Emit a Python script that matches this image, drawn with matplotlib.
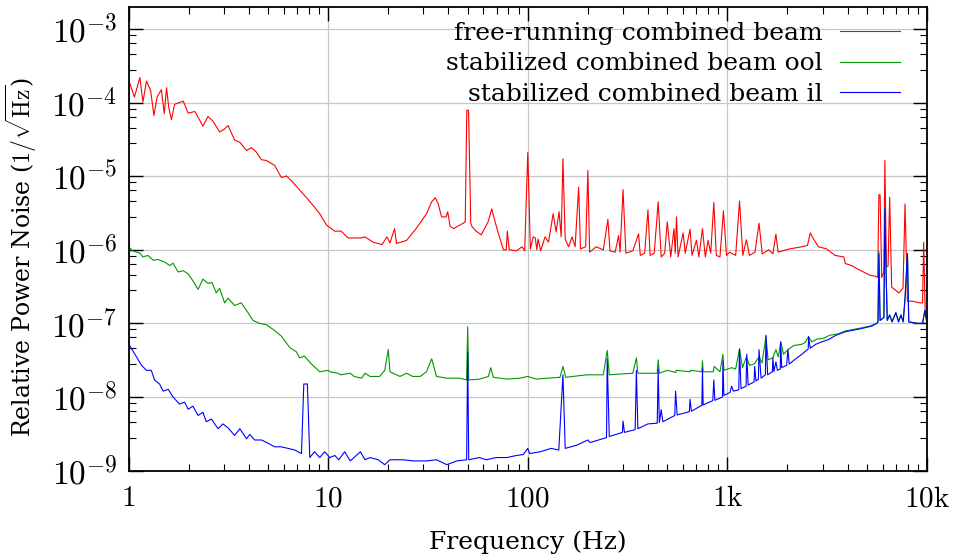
import numpy as np
import matplotlib
matplotlib.use("Agg")
import matplotlib.pyplot as plt
from matplotlib.ticker import FixedLocator, NullFormatter

# free-running combined beam (frequency in Hz, relative power noise in 1/sqrt(Hz))
red_f = [1.00, 1.07, 1.14, 1.18, 1.23, 1.29, 1.34, 1.39, 1.46, 1.51, 1.55, 1.59, 1.64, 1.70,
         1.88, 1.99, 2.15, 2.36, 2.50, 2.65, 2.86, 3.03, 3.15, 3.40, 3.61, 3.90, 4.12, 4.37,
         4.63, 4.90, 5.39, 5.83, 6.18, 6.54, 7.07, 7.95, 8.41, 9.07, 9.8, 10.8, 11.6, 12.6,
         14.5, 15.3, 16.8, 18.6, 19.7, 20.4, 21.5, 22.0, 24.7, 27.8, 31.1, 33.0, 34.4, 35.6,
         37.0, 39.0, 39.7, 40.8, 42.4, 47.5, 48.6, 49.5, 50.5, 51.8, 52.4, 55, 58.5, 63.3,
         66, 68.6, 71.3, 75.5, 78.0, 79, 80.7, 87.8, 93.5, 96.5, 100, 103, 106.5, 109, 111,
         112.6, 116, 122, 127, 134, 138.6, 143.5, 147, 150, 154, 160, 166.6, 172.6, 179.8,
         183.7, 195, 200, 204, 220, 239, 252, 258, 274, 285, 290, 300, 310, 336, 359, 366,
         385, 400, 410, 430, 450, 466, 485, 500, 520, 540, 548, 556, 566, 600, 615, 650, 665,
         700, 720, 750, 775, 800, 825, 855, 880, 918, 955, 990, 1025, 1100, 1150, 1195, 1245,
         1290, 1375, 1440, 1495, 1610, 1690, 1750, 1795, 2050, 2360, 2520, 2600, 2700, 2860,
         3140, 3460, 3830, 3900, 4200, 4480, 4800, 5190, 5500, 5660, 5740, 5820, 5930, 6080,
         6150, 6260, 6380, 6500, 6650, 6980, 7240, 7580, 7760, 7980, 8500, 9170, 9500, 9620,
         9800, 10000]
red_v = [2.07e-4, 1.19e-4, 2.2e-4, 1.02e-4, 1.97e-4, 1.47e-4, 6.7e-5, 1.19e-4, 1.5e-4, 7.1e-5,
         1.6e-4, 8.6e-5, 5.9e-5, 9.5e-5, 1.05e-4, 7.2e-5, 7.6e-5, 4.8e-5, 6.5e-5, 5.6e-5,
         4.0e-5, 4.4e-5, 4.9e-5, 3.1e-5, 2.9e-5, 2.24e-5, 2.45e-5, 2.13e-5, 1.68e-5, 1.64e-5,
         1.41e-5, 9.6e-6, 1.01e-5, 8.7e-6, 6.9e-6, 4.8e-6, 4.0e-6, 3.1e-6, 2.18e-6, 1.79e-6,
         1.8e-6, 1.45e-6, 1.45e-6, 1.5e-6, 1.27e-6, 1.18e-6, 1.5e-6, 1.24e-6, 1.94e-6, 1.22e-6,
         1.34e-6, 2.0e-6, 3.1e-6, 4.5e-6, 5.1e-6, 4.2e-6, 2.8e-6, 2.8e-6, 3.3e-6, 2.1e-6,
         1.94e-6, 2.3e-6, 2.4e-6, 7.9e-5, 7.9e-5, 2.3e-6, 2.1e-6, 1.8e-6, 1.6e-6, 2.4e-6,
         3.6e-6, 2.4e-6, 1.65e-6, 1.0e-6, 1.0e-6, 1.8e-6, 1.0e-6, 9.7e-7, 1.1e-6, 9.7e-7,
         2.1e-5, 1.03e-6, 1.5e-6, 1.45e-6, 1.0e-6, 1.4e-6, 9.7e-7, 1.5e-6, 1.27e-6, 3.1e-6,
         1.75e-6, 3.3e-6, 1.5e-6, 1.73e-5, 1.4e-6, 1.1e-6, 1.5e-6, 1.1e-6, 7.1e-6, 1.03e-6,
         1.1e-6, 1.2e-5, 9.3e-7, 1.1e-6, 1.0e-6, 2.6e-6, 9.7e-7, 9.3e-7, 1.56e-6, 9.3e-7,
         6.6e-6, 9.0e-7, 9.7e-7, 1.65e-6, 8.4e-7, 9.0e-7, 3.5e-6, 8.4e-7, 9.0e-7, 4.5e-6,
         8.0e-7, 9.0e-7, 2.4e-6, 8.0e-7, 1.94e-6, 9.0e-7, 2.8e-6, 8.0e-7, 1.7e-6, 9.0e-7,
         1.9e-6, 8.4e-7, 1.35e-6, 8.0e-7, 1.94e-6, 8.0e-7, 1.35e-6, 9.0e-7, 4.4e-6, 8.4e-7,
         8.0e-7, 3.4e-6, 8.4e-7, 9.3e-7, 8.4e-7, 4.6e-6, 8.4e-7, 1.37e-6, 8.4e-7, 9.3e-7,
         2.3e-6, 8.8e-7, 1.0e-6, 8.8e-7, 1.64e-6, 9.3e-7, 1.03e-6, 1.1e-6, 1.15e-6, 1.7e-6,
         1.4e-6, 1.1e-6, 1.03e-6, 8.4e-7, 8.0e-7, 6.5e-7, 6.1e-7, 5.5e-7, 5.0e-7, 4.5e-7,
         4.4e-7, 4.2e-7, 5.6e-6, 5.6e-6, 4.2e-7, 5.0e-7, 1.64e-5, 5.9e-7, 6.0e-7, 5.2e-6,
         3.1e-7, 2.8e-7, 2.6e-7, 3.0e-7, 4.2e-6, 2.0e-7, 2.0e-7, 1.9e-7, 1.9e-7, 1.27e-6,
         1.3e-7, 1.3e-7]

# stabilized combined beam, out-of-loop
green_f = [1.00, 1.05, 1.14, 1.18, 1.25, 1.33, 1.40, 1.52, 1.61, 1.67, 1.77, 1.88, 1.99, 2.10,
           2.23, 2.36, 2.50, 2.62, 2.75, 2.86, 3.03, 3.15, 3.40, 3.67, 3.90, 4.2, 4.53, 4.9,
           5.39, 5.83, 6.42, 6.93, 7.2, 7.6, 8.25, 9.07, 10.0, 10.2, 11.2, 11.5, 12.9, 13.5,
           14.7, 15.3, 16.2, 18.1, 19.2, 20.0, 20.4, 22.9, 24.7, 26.5, 28.9, 31.1, 33.0, 34.9,
           39.3, 45.7, 49.4, 50.0, 50.6, 57.5, 63.5, 65.2, 67.2, 78.5, 91, 100, 110, 145, 150,
           155, 197, 239, 250, 256, 290, 336, 350, 356, 417, 445, 450, 456, 500, 551, 553,
           650, 653, 745, 750, 756, 850, 858, 918, 950, 960, 1050, 1100, 1150, 1190, 1245,
           1290, 1360, 1440, 1490, 1560, 1600, 1690, 1750, 1800, 1850, 1910, 2010, 2150, 2360,
           2450, 2550, 2650, 2800, 3050, 3250, 3600, 3900, 4300, 4700, 5190, 5600, 5680, 5740,
           5820, 6080, 6150, 6220, 6320, 6500, 6680, 6980, 7200, 7400, 7600, 7760, 7980, 8100,
           8900, 9500, 9750, 10000]
green_v = [1.1e-6, 9.7e-7, 9.0e-7, 8.0e-7, 8.4e-7, 7.2e-7, 7.4e-7, 6.8e-7, 6.1e-7, 6.6e-7,
           5.0e-7, 5.2e-7, 4.7e-7, 3.8e-7, 2.9e-7, 4.0e-7, 3.5e-7, 3.6e-7, 2.6e-7, 3.0e-7,
           1.9e-7, 2.2e-7, 1.75e-7, 1.9e-7, 1.5e-7, 1.1e-7, 1.0e-7, 9.6e-8, 8.0e-8, 6.7e-8,
           4.7e-8, 4.1e-8, 3.4e-8, 3.6e-8, 2.8e-8, 2.2e-8, 2.3e-8, 2.2e-8, 2.1e-8, 2.0e-8,
           2.1e-8, 1.9e-8, 1.8e-8, 2.1e-8, 1.9e-8, 1.9e-8, 2.3e-8, 4.4e-8, 2.2e-8, 1.9e-8,
           2.1e-8, 1.9e-8, 1.9e-8, 2.2e-8, 3.3e-8, 1.9e-8, 1.8e-8, 1.8e-8, 1.7e-8, 9.0e-8,
           1.7e-8, 1.75e-8, 1.9e-8, 2.5e-8, 1.85e-8, 1.75e-8, 1.8e-8, 1.9e-8, 1.75e-8, 1.85e-8,
           2.6e-8, 1.85e-8, 2.0e-8, 2.0e-8, 4.3e-8, 2.0e-8, 2.05e-8, 2.1e-8, 3.4e-8, 2.1e-8,
           2.1e-8, 2.1e-8, 3.2e-8, 2.1e-8, 2.3e-8, 2.15e-8, 2.3e-8, 2.2e-8, 2.3e-8, 2.2e-8,
           3.1e-8, 2.2e-8, 2.2e-8, 2.6e-8, 2.2e-8, 3.8e-8, 2.3e-8, 2.5e-8, 2.4e-8, 4.5e-8,
           2.5e-8, 3.5e-8, 2.7e-8, 2.8e-8, 3.5e-8, 2.9e-8, 6.6e-8, 3.2e-8, 3.4e-8, 4.4e-8,
           3.5e-8, 5.6e-8, 3.8e-8, 4.4e-8, 5.0e-8, 5.2e-8, 5.5e-8, 6.6e-8, 5.6e-8, 6.1e-8,
           6.3e-8, 6.9e-8, 7.2e-8, 7.9e-8, 8.3e-8, 8.7e-8, 9.2e-8, 1.0e-7, 1.05e-7, 9.5e-7,
           1.1e-7, 1.2e-7, 3.7e-6, 6.8e-7, 1.1e-7, 1.3e-7, 1.05e-7, 1.4e-7, 1.05e-7, 1.3e-7,
           1.05e-7, 2.2e-7, 9.0e-7, 1.05e-7, 1.0e-7, 1.0e-7, 1.5e-7, 1.0e-7]

# stabilized combined beam, in-loop
blue_f = [1.00, 1.07, 1.16, 1.23, 1.30, 1.35, 1.43, 1.49, 1.58, 1.67, 1.80, 1.91, 1.99, 2.10,
          2.23, 2.36, 2.45, 2.60, 2.81, 2.97, 3.15, 3.40, 3.61, 3.90, 4.05, 4.28, 4.63, 5.0,
          5.39, 5.83, 6.3, 6.8, 7.35, 7.55, 7.87, 8.09, 8.55, 9.07, 9.6, 10.2, 10.8, 11.3,
          12.1, 12.9, 14.5, 15.3, 16.2, 17.8, 19.2, 20.4, 23.7, 26.7, 31.1, 34.9, 39.3, 44.1,
          49.4, 50.0, 50.6, 57, 62, 69.5, 78.5, 87.8, 95, 100, 102, 115.7, 131, 143, 150, 154,
          175, 200, 205, 248, 250, 256, 298, 300, 305, 345, 350, 356, 400, 445, 450, 456, 466,
          475, 545, 550, 560, 645, 650, 660, 745, 750, 756, 845, 855, 865, 945, 950, 960,
          1030, 1050, 1070, 1140, 1150, 1170, 1240, 1250, 1270, 1360, 1370, 1390, 1430, 1440,
          1475, 1550, 1560, 1590, 1680, 1690, 1710, 1750, 1780, 1840, 1850, 1870, 1980, 2010,
          2040, 2200, 2360, 2540, 2550, 2600, 2770, 2960, 3200, 3500, 3900, 4300, 4700, 5300,
          5600, 5680, 5740, 5820, 6080, 6150, 6220, 6320, 6500, 6680, 6980, 7200, 7400, 7600,
          7760, 7980, 8100, 8900, 9500, 9750, 10000]
blue_v = [5.3e-8, 3.9e-8, 2.7e-8, 2.3e-8, 2.3e-8, 1.7e-8, 1.5e-8, 1.2e-8, 1.27e-8, 1.0e-8,
          8.0e-9, 8.5e-9, 6.8e-9, 7.5e-9, 5.6e-9, 6.2e-9, 4.6e-9, 5.0e-9, 3.7e-9, 4.3e-9,
          3.8e-9, 3.0e-9, 3.7e-9, 2.7e-9, 3.1e-9, 2.6e-9, 2.6e-9, 2.35e-9, 2.1e-9, 2.1e-9,
          2.0e-9, 1.9e-9, 1.7e-9, 1.5e-8, 1.5e-8, 1.5e-9, 1.8e-9, 1.5e-9, 1.8e-9, 1.5e-9,
          1.6e-9, 1.4e-9, 1.8e-9, 1.35e-9, 1.8e-9, 1.4e-9, 1.5e-9, 1.4e-9, 1.2e-9, 1.4e-9,
          1.4e-9, 1.35e-9, 1.35e-9, 1.4e-9, 1.2e-9, 1.35e-9, 1.4e-9, 4.1e-8, 1.4e-9, 1.5e-9,
          1.4e-9, 1.5e-9, 1.5e-9, 1.6e-9, 1.65e-9, 2.0e-9, 1.7e-9, 1.8e-9, 2.0e-9, 1.9e-9,
          2.0e-8, 2.0e-9, 2.2e-9, 2.6e-9, 2.4e-9, 2.8e-9, 3.3e-8, 2.9e-9, 3.3e-9, 4.7e-9,
          3.3e-9, 3.6e-9, 2.3e-8, 3.7e-9, 4.3e-9, 4.4e-9, 2.4e-8, 4.5e-9, 6.7e-9, 4.6e-9,
          5.6e-9, 1.2e-8, 5.7e-9, 6.3e-9, 9.3e-9, 6.4e-9, 7.7e-9, 2.4e-8, 7.8e-9, 8.9e-9,
          1.7e-8, 9.0e-9, 1.0e-8, 3.1e-8, 1.05e-8, 1.15e-8, 1.4e-8, 1.2e-8, 1.25e-8, 4.5e-8,
          1.3e-8, 1.4e-8, 3.8e-8, 1.45e-8, 1.6e-8, 2.6e-8, 1.65e-8, 1.75e-8, 4.4e-8, 1.8e-8,
          2.0e-8, 6.9e-8, 2.0e-8, 2.2e-8, 3.4e-8, 2.2e-8, 3.0e-8, 2.3e-8, 2.4e-8, 5.6e-8,
          2.5e-8, 2.7e-8, 4.4e-8, 2.8e-8, 3.3e-8, 3.8e-8, 4.5e-8, 6.6e-8, 4.6e-8, 5.2e-8,
          5.6e-8, 6.0e-8, 6.9e-8, 7.7e-8, 8.1e-8, 8.5e-8, 9.2e-8, 1.0e-7, 1.05e-7, 8.8e-7,
          1.1e-7, 1.2e-7, 3.6e-6, 6.8e-7, 1.1e-7, 1.3e-7, 1.05e-7, 1.4e-7, 1.05e-7, 1.3e-7,
          1.05e-7, 2.2e-7, 8.8e-7, 1.05e-7, 1.0e-7, 1.0e-7, 1.5e-7, 1.0e-7]

labels = ["free-running combined beam", "stabilized combined beam ool",
          "stabilized combined beam il"]
xtick_vals = [1, 10, 100, 1000, 10000]
xtick_labels = [r"$1$", r"$10$", r"$100$", r"$1\mathrm{k}$", r"$10\mathrm{k}$"]
ytick_vals = [1e-9, 1e-8, 1e-7, 1e-6, 1e-5, 1e-4, 1e-3]

plt.rcParams["font.family"] = ["DejaVu Serif"]
plt.rcParams["mathtext.fontset"] = "cm"

fig = plt.figure(figsize=(9.55, 5.6), dpi=100)
ax = fig.add_axes([0.1346, 0.1598, 0.8361, 0.8277])

ax.plot(red_f, red_v, color="#ff0000", lw=0.8, label=labels[0])
ax.plot(green_f, green_v, color="#009900", lw=0.8, label=labels[1])
ax.plot(blue_f, blue_v, color="#0000ff", lw=0.8, label=labels[2])

ax.set_xscale("log")
ax.set_yscale("log")
ax.set_xlim(1, 1e4)
ax.set_ylim(1e-9, 2e-3)

ax.set_xticks(xtick_vals)
ax.set_xticklabels(xtick_labels)
ax.set_yticks(ytick_vals)
ax.set_yticklabels([r"$10^{%d}$" % int(np.log10(v)) for v in ytick_vals])

# minor ticks on y as in the original
ymin = []
for e in range(-9, -2):
    for m in [2.8, 4.6, 6.45, 8.3]:
        ymin.append(m * 10.0**e)
ax.yaxis.set_minor_locator(FixedLocator(ymin))
ax.yaxis.set_minor_formatter(NullFormatter())

ax.tick_params(which="both", direction="in", top=True, right=True)
ax.tick_params(which="major", length=10, width=1)
ax.tick_params(which="minor", length=5, width=0.8)
ax.tick_params(axis="x", labelsize=21, pad=10)
ax.tick_params(axis="y", labelsize=24, pad=8)
for s in ax.spines.values():
    s.set_linewidth(1.3)

ax.grid(True, which="major", color="#c8c8c8", lw=0.9)
ax.set_axisbelow(True)

ax.set_xlabel("Frequency (Hz)", fontsize=18)
ax.xaxis.set_label_coords(0.5, -0.13)
ax.set_ylabel(r"Relative Power Noise ($1/\sqrt{\mathrm{Hz}}$)", fontsize=17)
ax.yaxis.set_label_coords(-0.112, 0.46)

leg = ax.legend(loc="upper right", bbox_to_anchor=(0.985, 1.0), frameon=False,
                markerfirst=False, fontsize=18, handlelength=2.4, handletextpad=0.7,
                labelspacing=0.3, borderaxespad=0.2)
for t in leg.get_texts():
    t.set_ha("right")

fig.savefig("out.png", dpi=100)
